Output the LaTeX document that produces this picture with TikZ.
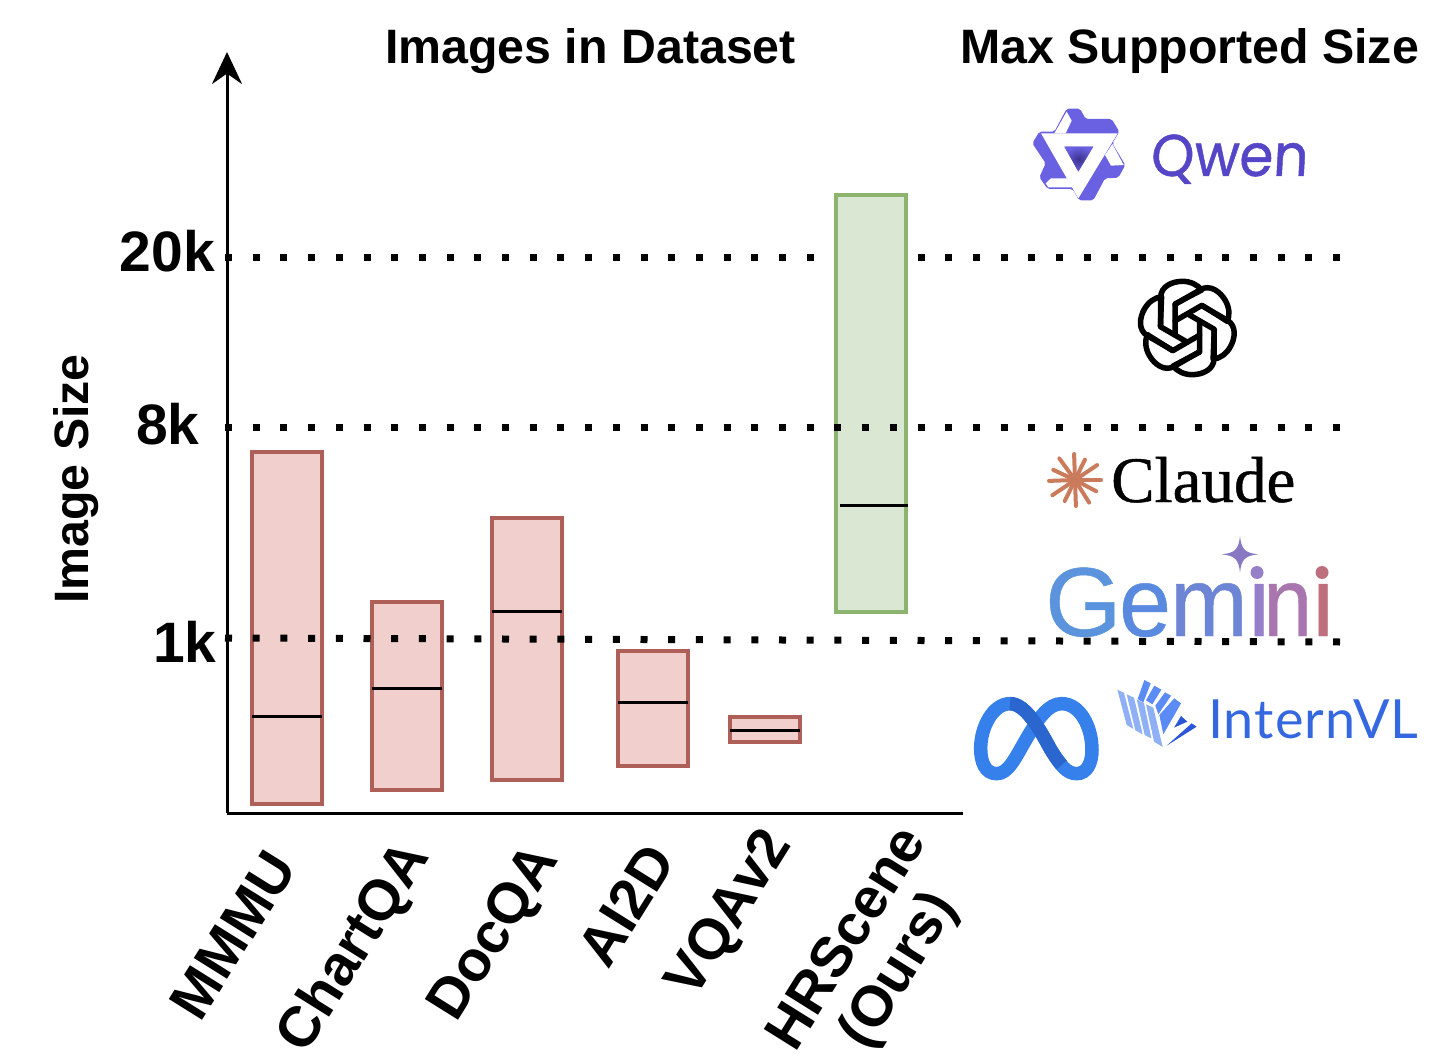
\documentclass[tikz,border=0pt]{standalone}
\usepackage{fontspec}
\setmainfont{Liberation Sans}
\newfontfamily\qwenfont[FakeSlant=0.06,FakeBold=0.8]{Poppins}
\newfontfamily\internfont[LetterSpace=2]{Lato}
\newfontfamily\claudefont[FakeBold=0.7]{Liberation Serif}
\newfontfamily\gemfont[FakeBold=0.5]{Liberation Sans}
\usetikzlibrary{arrows.meta}
\definecolor{redfill}{HTML}{F1CFCC}
\definecolor{reddraw}{HTML}{AE5F58}
\definecolor{greenfill}{HTML}{D9E7D3}
\definecolor{greendraw}{HTML}{8DB46F}
\definecolor{qwencol}{HTML}{5546C8}
\definecolor{qwenlogo}{HTML}{6A60E2}
\definecolor{claudecol}{HTML}{C97B5B}
\definecolor{metacol}{HTML}{3580EA}
\definecolor{metadark}{HTML}{2A66CE}
\definecolor{interncol}{HTML}{3568E0}
\definecolor{internpale}{HTML}{8FB0F5}
\definecolor{internmid}{HTML}{5B8BF5}
\definecolor{interndark}{HTML}{2C55D8}
\definecolor{gemstar}{HTML}{8878C4}
\definecolor{gemcola}{HTML}{5B94DC}
\definecolor{gemcolb}{HTML}{5A8ADF}
\definecolor{gemcolc}{HTML}{6D85D5}
\definecolor{gemcold}{HTML}{9680C8}
\definecolor{gemcole}{HTML}{A875AE}
\definecolor{gemcolf}{HTML}{BE6F7E}
\tikzset{
  headlab/.style={font=\fontsize{48.3}{54}\selectfont\bfseries,inner sep=0pt},
  ticklab/.style={font=\fontsize{57}{60}\selectfont\bfseries,inner sep=0pt},
  namelab/.style={font=\fontsize{57}{60}\selectfont\bfseries,inner sep=0pt,rotate=58,align=center},
  axisline/.style={line width=3pt},
  dotline/.style={line width=7pt,dash pattern=on 7pt off 20.7pt},
  redbar/.style={line width=3.5pt,draw=reddraw,fill=redfill},
  greenbar/.style={line width=3.5pt,draw=greendraw,fill=greenfill},
  medline/.style={line width=3pt},
  gemlab/.style={font=\gemfont\fontsize{98}{100}\selectfont,inner sep=0pt,anchor=base west},
  openlobe/.style={line width=5.5pt,line join=round,line cap=round},
}
\begin{document}
\begin{tikzpicture}[x=1pt,y=-1pt]
      \useasboundingbox (0,0) rectangle (1454,1056) ;
      % grid levels and bars
      \draw[dotline] (225,257.5)--(1340,257.5) ;
      \foreach \xa/\xb/\ya/\yb/\ym in {252/322/452/804/716,372/442/602/790/688,%
        492/562/518/780/611,618/688/651/766/702,730/800/717/742/730}{
        \draw[redbar] (\xa,\ya) rectangle (\xb,\yb) ;
        \draw[medline] (\xa,\ym)--(\xb,\ym) ;
      }
      \draw[greenbar] (836,195) rectangle (906,612) ;
      \draw[medline] (840,505)--(908,505) ;
      \draw[dotline] (225,427.5)--(1340,427.5) ;
      \draw[dotline] (225,638)--(1340,642) ;
      % axes
      \coordinate (O) at (227,813) ;
      \coordinate (ytop) at (227,52) ;
      \coordinate (xend) at (963,813) ;
      \draw[axisline,-{Stealth[length=32pt,width=30pt]}] (O)--(ytop) ;
      \draw[axisline] (O)--(xend) ;
      % texts
      \node[headlab] (dataset) at (590.5,51) {Images in Dataset} ;
      \node[headlab] (maxsize) at (1189.5,51) {Max Supported Size} ;
      \node[headlab,rotate=90] (ylab) at (76,479) {Image Size} ;
      \node[ticklab] (t20k) at (167.5,251) {20k} ;
      \node[ticklab] (t8k) at (168,424) {8k} ;
      \node[ticklab] (t1k) at (185,642) {1k} ;
      \node[namelab] (mmmu) at (233,935) {MMMU} ;
      \node[namelab] (chartqa) at (355,948) {ChartQA} ;
      \node[namelab] (docqa) at (496,934) {DocQA} ;
      \node[namelab] (aitwod) at (626,905) {AI2D} ;
      \node[namelab] (vqa) at (731,915) {VQAv2} ;
      \node[namelab] (hrscene) at (875,956) {HRScene\\(Ours)} ;
      % qwen logo
      \begin{scope}[shift={(1025,100)},scale=1/3]
        \fill[qwenlogo,rounded corners=2pt] (125,26)--(165,26)--(182,57)--(260,57)--(283,95)--(262,130)--(301,195)--(280,233)--(240,235)--(205,301)--(162,301)--(143,267)--(68,267)--(43,232)--(62,190)--(22,130)--(43,95)--(88,95)--cycle ;
        \fill[white,even odd rule] (48,100)--(278,100)--(160,295)--cycle (118,140)--(205,140)--(160,215)--cycle ;
        \fill[white] (125,35)--(140,62)--(122,100)--(88,100)--cycle ;
        \fill[white] (240,165)--(262,132)--(296,195)--(258,197)--cycle ;
        \fill[white] (78,235)--(125,235)--(143,262)--(70,262)--(62,250)--cycle ;
        \shade[inner color=qwencol!70!black,outer color=qwenlogo] (118,140)--(205,140)--(160,215)--cycle ;
      \end{scope}
      \node[font=\qwenfont\fontsize{59}{60}\selectfont,text=qwencol,inner sep=0pt,anchor=base west,xscale=0.93] (qwen) at (1150,176) {Qwen} ;
      % openai logo
      \begin{scope}[shift={(1130,270)},scale=1/3]
        \foreach \k in {0,60,...,300}{
          \draw[openlobe,shift={(172,174)},rotate=\k] (-80,-4)--(-80,-92) .. controls (-80,-125) and (-45,-140) .. (-15,-140) .. controls (10,-140) and (30,-130) .. (43,-114)--(-37,-72)--(-37,21) ;
        }
      \end{scope}
      % claude
      \begin{scope}[shift={(960,440)},scale=1/3]
        \foreach \a/\r in {0/78,28/72,58/80,88/78,116/70,146/82,178/78,205/72,234/80,268/78,296/68,326/80}{
          \draw[claudecol,line width=4pt,line cap=round,shift={(345,120)}] (0,0)--(\a:\r) ;
        }
      \end{scope}
      \node[font=\claudefont\fontsize{65}{67}\selectfont,inner sep=0pt,anchor=base west] (claude) at (1111,502) {Claude} ;
      % gemini
      \begin{scope}[shift={(960,440)},scale=1/3]
        \fill[gemstar,shift={(840,343)}] (0,-55) .. controls (4,-15) and (15,-4) .. (55,0) .. controls (15,4) and (4,15) .. (0,55) .. controls (-4,15) and (-15,4) .. (-55,0) .. controls (-15,-4) and (-4,-15) .. (0,-55)--cycle ;
      \end{scope}
      \node[gemlab,text=gemcola] (gemg) at (1045,636) {G} ;
      \node[gemlab,text=gemcolb,xscale=0.95] (geme) at (1119,636) {e} ;
      \node[gemlab,text=gemcolc,xscale=0.95] (gemm) at (1170,636) {m} ;
      \node[gemlab,text=gemcold] (gemi) at (1248,636) {i} ;
      \node[gemlab,text=gemcole,xscale=0.9] (gemn) at (1263,636) {n} ;
      \node[gemlab,text=gemcolf] (gemj) at (1312,636) {i} ;
      \fill[white] (1250,560) rectangle (1270,579) ;
      \fill[white] (1312,560) rectangle (1332,579) ;
      \fill[gemcold] (1257,572.5) circle (6.5) ;
      \fill[gemcolf] (1322,572.5) circle (6.5) ;
      % meta logo
      \begin{scope}[shift={(960,440)},scale=1/3]
        \draw[metacol,line width=13.5pt] (110,1001) .. controls (75,1001) and (62,965) .. (62,925) .. controls (62,860) and (100,791) .. (150,791) .. controls (195,791) and (235,860) .. (270,925) .. controls (300,975) and (320,1001) .. (350,1001) .. controls (380,1001) and (396,970) .. (396,930) .. controls (396,860) and (360,791) .. (305,791) .. controls (265,791) and (235,835) .. (200,895) .. controls (165,955) and (145,1001) .. (110,1001)--cycle ;
        \draw[metadark,line width=13.5pt] (150,791) .. controls (195,791) and (235,860) .. (270,925) .. controls (282,945) and (292,960) .. (305,975) ;
      \end{scope}
      % internvl logo
      \begin{scope}[shift={(1110,675)},scale=1/3]
        \fill[internpale] (22,44)--(42,54)--(70,162)--(50,150)--cycle ;
        \fill[internpale] (50,58)--(72,68)--(98,178)--(76,166)--cycle ;
        \fill[internpale] (80,73)--(102,84)--(124,190)--(104,180)--cycle ;
        \fill[internpale] (108,88)--(130,98)--(158,216)--(132,200)--cycle ;
        \fill[internmid] (103,15)--(122,25)--(100,82)--(83,72)--cycle ;
        \fill[internmid] (133,32)--(154,44)--(127,88)--(108,76)--cycle ;
        \fill[internmid] (165,52)--(183,62)--(145,118)--(136,92)--cycle ;
        \fill[internmid] (193,70)--(213,85)--(160,178)--(148,120)--cycle ;
        \fill[interndark] (213,123)--(232,140)--(192,158)--cycle ;
        \fill[interndark] (170,212)--(245,145)--(260,155)--cycle ;
      \end{scope}
      \node[font=\internfont\fontsize{54}{56}\selectfont,text=interncol,inner sep=0pt,anchor=base west] (intern) at (1208,738) {InternVL} ;
    \end{tikzpicture}
\end{document}
